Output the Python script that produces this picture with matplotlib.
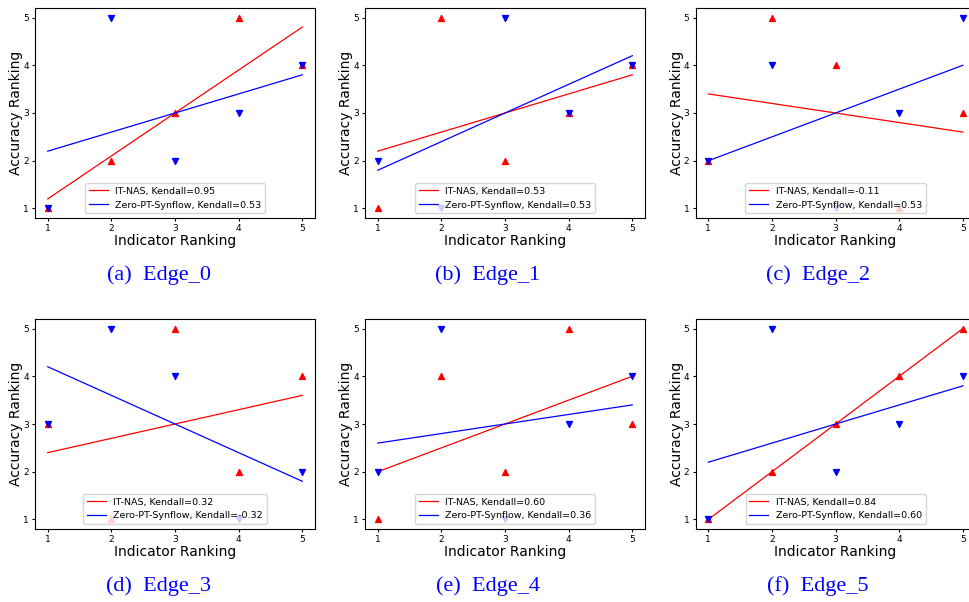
"""Ranking correlation panels: IT-NAS vs Zero-PT-Synflow per edge."""

import numpy as np
import matplotlib

matplotlib.use("Agg")

import matplotlib.pyplot as plt

# indicator ranking (x) shared by every panel
ranks = [1, 2, 3, 4, 5]

captions = ["(a)  Edge_0", "(b)  Edge_1", "(c)  Edge_2",
            "(d)  Edge_3", "(e)  Edge_4", "(f)  Edge_5"]

# accuracy ranking
it_nas_acc = [
    [1, 2, 3, 5, 4],
    [1, 5, 2, 3, 4],
    [2, 5, 4, 1, 3],
    [3, 1, 5, 2, 4],
    [1, 4, 2, 5, 3],
    [1, 2, 3, 4, 5],
]
synflow_acc = [
    [1, 5, 2, 3, 4],
    [2, 1, 5, 3, 4],
    [2, 4, 1, 3, 5],
    [3, 5, 4, 1, 2],
    [2, 5, 1, 3, 4],
    [1, 5, 2, 3, 4],
]
it_nas_kendall = ["0.95", "0.53", "-0.11", "0.32", "0.60", "0.84"]
synflow_kendall = ["0.53", "0.53", "0.53", "-0.32", "0.36", "0.60"]

W, H = 969, 602
fig = plt.figure(figsize=(W / 100, H / 100), dpi=100)

col_left = [35, 365, 695.6]
row_top = [8, 319]
ax_w, ax_h = 280, 210
cap_x = [159, 488, 818]
cap_y = [280, 591]

x = np.array(ranks, dtype=float)
for i in range(6):
    r, c = divmod(i, 3)
    ax = fig.add_axes([col_left[c] / W, 1 - (row_top[r] + ax_h) / H,
                       ax_w / W, ax_h / H])
    y1 = np.array(it_nas_acc[i], dtype=float)
    y2 = np.array(synflow_acc[i], dtype=float)
    fit1 = np.polyval(np.polyfit(x, y1, 1), x)
    fit2 = np.polyval(np.polyfit(x, y2, 1), x)

    ax.scatter(x, y1, c="r", marker="^", s=18, zorder=2)
    ax.plot(x, fit1, color="r", linewidth=0.9,
            label=f"IT-NAS, Kendall={it_nas_kendall[i]}")
    ax.scatter(x, y2, c="b", marker="v", s=18, zorder=2)
    ax.plot(x, fit2, color="b", linewidth=0.9,
            label=f"Zero-PT-Synflow, Kendall={synflow_kendall[i]}")

    ax.set_xticks(ranks)
    ax.set_yticks(ranks)
    ax.tick_params(labelsize=6.5, length=2, pad=2.5)
    ax.set_xlabel("Indicator Ranking", fontsize=10, labelpad=0.5)
    ax.set_ylabel("Accuracy Ranking", fontsize=10, labelpad=0)
    ax.legend(loc="lower center", fontsize=6.8)

    fig.text(cap_x[c] / W, 1 - cap_y[r] / H, captions[i],
             ha="center", va="baseline", color="#0000ff",
             family="Liberation Serif", fontsize=16)

fig.savefig("out.png", dpi=100)
